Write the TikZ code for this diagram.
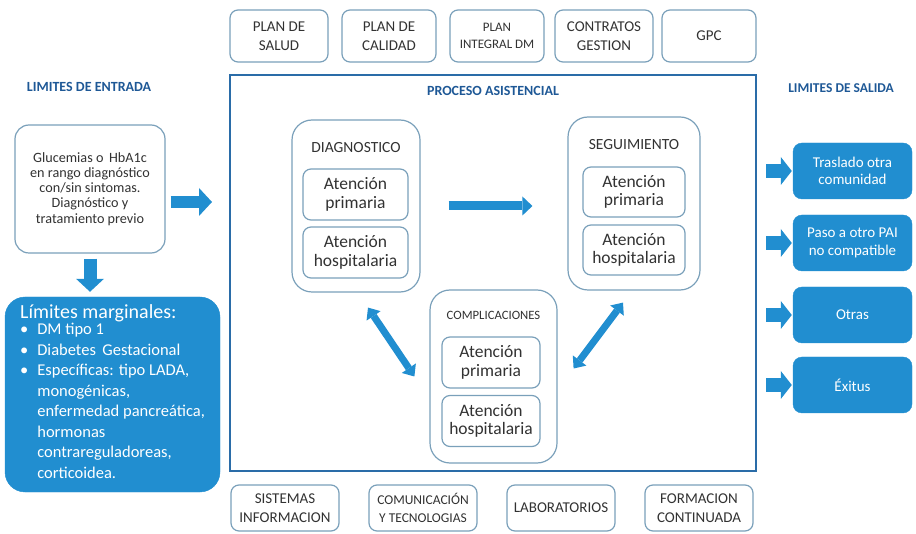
\documentclass[tikz,border=0pt]{standalone}
\usepackage{fontspec}
\setmainfont{Carlito}
\usetikzlibrary{arrows.meta}
\definecolor{azul}{RGB}{33,142,208}
\definecolor{azulosc}{RGB}{42,108,168}
\definecolor{borde}{RGB}{122,160,186}
\definecolor{gris}{RGB}{50,50,50}
\definecolor{titulo}{RGB}{30,88,150}
\begin{document}
\begin{tikzpicture}[x=1pt,y=-1pt,
  caja/.style={draw=borde,line width=1.2pt,rounded corners=8pt,align=center,text=gris,inner sep=2pt,font=\fontsize{15}{19}\selectfont},
  atencion/.style={caja,font=\fontsize{17.5}{18.5}\selectfont},
  bloque/.style={draw=borde,line width=1.2pt,rounded corners=20pt},
  azulcaja/.style={fill=azul,draw=azul,rounded corners=9pt,align=center,text=white,inner sep=2pt,font=\fontsize{15}{17.5}\selectfont},
  cabecera/.style={text=titulo,font=\bfseries\fontsize{14}{16}\selectfont},
  flecha/.style={draw=azul,line width=12pt,-{Triangle[length=13pt,width=28pt,line width=0pt]}},
  dobleflecha/.style={draw=azul,line width=7pt,{Triangle[length=10pt,width=17pt,line width=0pt]}-{Triangle[length=10pt,width=17pt,line width=0pt]}}]
\useasboundingbox (0,0) rectangle (916,534);
% marco superior
\node[caja,minimum width=98pt,minimum height=52pt] (salud) at (279,36) {PLAN DE\\SALUD};
\node[caja,minimum width=94pt,minimum height=52pt] (calidad) at (389,36) {PLAN DE\\CALIDAD};
\node[caja,minimum width=94pt,minimum height=52pt,font=\fontsize{13}{17}\selectfont] (integral) at (497,36) {PLAN\\INTEGRAL DM};
\node[caja,minimum width=98pt,minimum height=52pt] (contratos) at (604,36) {CONTRATOS\\GESTION};
\node[caja,minimum width=94pt,minimum height=52pt] (gpc) at (709,36) {GPC};
% proceso
\node[draw=azulosc,line width=2pt,minimum width=526pt,minimum height=396pt] (proc) at (493,273) {};
\node[cabecera] (proctit) at (493,91) {PROCESO ASISTENCIAL};
\node[bloque,minimum width=128pt,minimum height=172pt] (diag) at (356,206) {};
\node[caja,draw=none,font=\fontsize{15.5}{18}\selectfont] (diagtit) at (356,148) {DIAGNOSTICO};
\node[atencion,minimum width=105pt,minimum height=51pt] (diagap) at (355.5,194.5) {Atención\\primaria};
\node[atencion,minimum width=105pt,minimum height=51pt] (diagah) at (355.5,252.5) {Atención\\hospitalaria};
\node[bloque,minimum width=132pt,minimum height=173pt] (seg) at (634,203.5) {};
\node[caja,draw=none,font=\fontsize{15.5}{18}\selectfont] (segtit) at (634,145) {SEGUIMIENTO};
\node[atencion,minimum width=102pt,minimum height=50pt] (segap) at (634,192) {Atención\\primaria};
\node[atencion,minimum width=102pt,minimum height=50pt] (segah) at (634,250) {Atención\\hospitalaria};
\node[bloque,minimum width=127pt,minimum height=173pt] (comp) at (493.5,376.5) {};
\node[caja,draw=none,font=\fontsize{12.7}{15}\selectfont] (comptit) at (493.5,315) {COMPLICACIONES};
\node[atencion,minimum width=98pt,minimum height=51pt] (compap) at (491,362.5) {Atención\\primaria};
\node[atencion,minimum width=98pt,minimum height=51pt] (compah) at (491,421) {Atención\\hospitalaria};
% marco inferior
\node[caja,minimum width=108pt,minimum height=46pt] (sistemas) at (285,508) {SISTEMAS\\INFORMACION};
\node[caja,minimum width=108pt,minimum height=46pt,font=\fontsize{13.5}{18}\selectfont] (comunic) at (423,508) {COMUNICACIÓN\\Y TECNOLOGIAS};
\node[caja,minimum width=108pt,minimum height=46pt] (lab) at (561,508) {LABORATORIOS};
\node[caja,minimum width=108pt,minimum height=46pt] (formacion) at (699,508) {FORMACION\\CONTINUADA};
% entrada
\node[cabecera] (entradatit) at (89,87) {LIMITES DE ENTRADA};
\node[caja,rounded corners=14pt,minimum width=150pt,minimum height=128pt,font=\fontsize{14.2}{15.2}\selectfont] (entrada) at (90,189)
  {Glucemias o\, HbA1c\\en rango diagnóstico\\con/sin sintomas.\\Diagnóstico y\\tratamiento previo};
\node[azulcaja,rounded corners=20pt,minimum width=215pt,minimum height=195pt,align=left] (marg) at (112.5,394.5)
  {{\fontsize{20}{22}\selectfont Límites marginales:}\\[-3pt]
   {\fontsize{16.5}{20.5}\selectfont\begin{tabular}{@{}l@{\hspace{9pt}}l@{}}
   \textbullet & DM tipo 1\\
   \textbullet & Diabetes\, Gestacional\\
   \textbullet & Específicas: tipo LADA,\\
   & monogénicas,\\
   & enfermedad pancreática,\\
   & hormonas\\
   & contrareguladoreas,\\
   & corticoidea.
   \end{tabular}}};
% salida
\node[cabecera,font=\bfseries\fontsize{13.5}{16}\selectfont] (salidatit) at (841,88) {LIMITES DE SALIDA};
\node[azulcaja,minimum width=119pt,minimum height=56pt] (traslado) at (852.5,171) {Traslado otra\\comunidad};
\node[azulcaja,minimum width=119pt,minimum height=56pt] (paso) at (852.5,243) {Paso a otro PAI\\no compatible};
\node[azulcaja,minimum width=119pt,minimum height=56pt] (otras) at (852.5,315) {Otras};
\node[azulcaja,minimum width=119pt,minimum height=56pt] (exitus) at (852.5,385) {Éxitus};
% flechas
\draw[flecha,shorten <=5pt,shorten >=17pt] ([yshift=-13pt]entrada.east) -- ([yshift=-13pt]entrada.east -| proc.west);
\draw[flecha,line width=13pt,shorten <=5pt,shorten >=5pt] (entrada.south) -- (entrada.south |- marg.north);
\draw[flecha,line width=9pt,-{Triangle[length=10pt,width=19pt,line width=0pt]},shorten <=28pt,shorten >=35pt] (diag.east) -- (diag.east -| seg.west);
\draw[dobleflecha] ([xshift=12pt,yshift=-15pt]diag.south) -- ([xshift=-15pt]comp.west);
\draw[dobleflecha] ([xshift=-11pt,yshift=-12pt]seg.south) -- ([xshift=16pt,yshift=8pt]comp.east);
\foreach \s in {traslado,paso,otras,exitus}
  \draw[flecha,line width=14pt,-{Triangle[length=11pt,width=28pt,line width=0pt]},shorten <=9pt,shorten >=1pt] (proc.east |- \s.west) -- (\s.west);
\end{tikzpicture}
\end{document}
